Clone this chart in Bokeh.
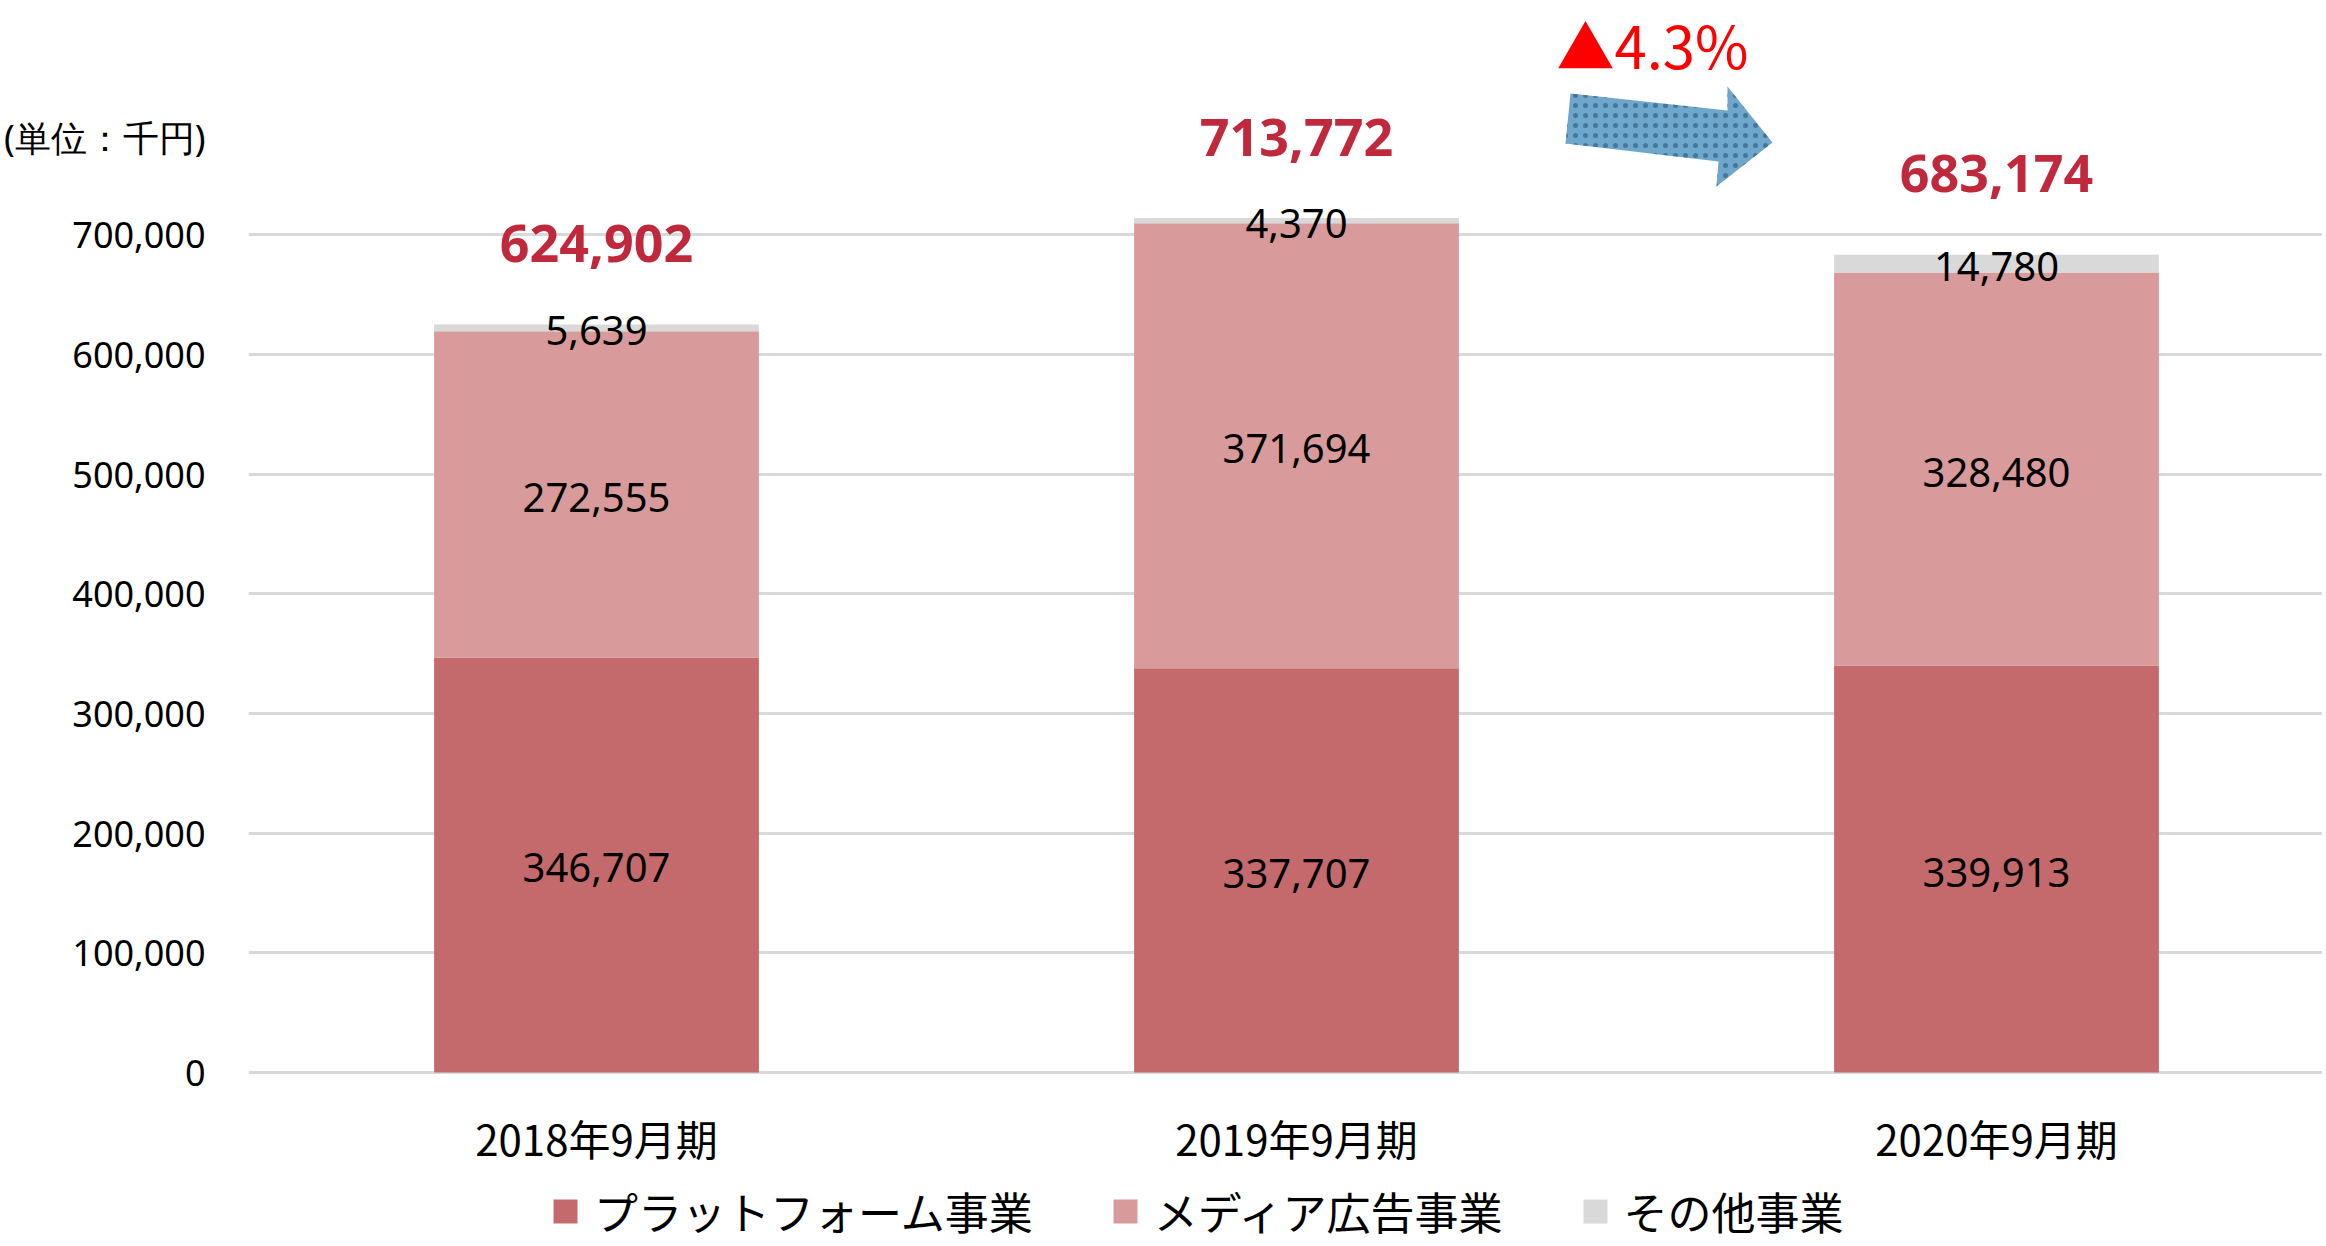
from bokeh.plotting import figure
from bokeh.models import (ColumnDataSource, Range1d, FixedTicker, Legend, LegendItem,
                          Label, NumeralTickFormatter)
from bokeh.core.properties import value
from bokeh.embed import file_html
from bokeh.resources import INLINE

# ---- data ----
periods = ["2018年9月期", "2019年9月期", "2020年9月期"]
platform = [346707, 337707, 339913]
media = [272555, 371694, 328480]
other = [5639, 4370, 14780]
totals = [624902, 713772, 683174]
series_names = ["プラットフォーム事業", "メディア広告事業", "その他事業"]
y_ticks = [0, 100000, 200000, 300000, 400000, 500000, 600000, 700000]
change_label = "▲4.3%"
unit_label = "(単位：千円)"

# ---- styling / geometry ----
colors = ["#C46A6C", "#D89A9B", "#D9D9D9"]
NUM_FONT = "Noto Sans"
JP_FONT = "Noto Sans CJK JP"

# page-pixel -> data helpers (used only for decorations)
PX0, PXU = 596.0, 700.0          # page x of first category centre, px per category
PY0, PYU = 1072.0, 119.7 / 1e5   # page y of zero line, px per unit value
def px2x(px):
    return (px - PX0) / PXU
def py2y(py):
    return (PY0 - py) / PYU

W, H = 2322, 1244
FRAME_L = 248
p = figure(frame_width=W - FRAME_L, frame_height=H,
           output_backend="svg", toolbar_location=None,
           x_range=Range1d(px2x(FRAME_L), px2x(W)),
           y_range=Range1d(py2y(H), py2y(0)),
           min_border_left=FRAME_L, min_border_right=0, min_border_top=0,
           min_border_bottom=0)
p.outline_line_color = None
p.background_fill_color = "white"
p.border_fill_color = "white"

xs = list(range(len(periods)))
plat_mid = [v / 2 for v in platform]
media_mid = [a + b / 2 for a, b in zip(platform, media)]
other_mid = [a + b + c / 2 for a, b, c in zip(platform, media, other)]
src = ColumnDataSource(dict(
    x=xs, platform=platform, media=media, other=other, totals=totals,
    plat_mid=plat_mid, media_mid=media_mid, other_mid=other_mid,
    plat_lbl=[f"{v:,}" for v in platform],
    media_lbl=[f"{v:,}" for v in media],
    other_lbl=[f"{v:,}" for v in other],
    total_lbl=[f"{v:,}" for v in totals],
))

renderers = p.vbar_stack(["platform", "media", "other"], x="x", width=0.464,
                         color=colors, line_color=None, source=src)

for ycol, tcol in [("plat_mid", "plat_lbl"), ("media_mid", "media_lbl"), ("other_mid", "other_lbl")]:
    p.text(x="x", y=ycol, text=tcol, source=src, text_align="center",
           text_baseline="middle", text_font=value(NUM_FONT), text_font_size="40px",
           text_color="#000000", y_offset=3)

p.text(x="x", y="totals", text="total_lbl", source=src, text_align="center",
       text_baseline="middle", text_font=value(NUM_FONT), text_font_size="52px",
       text_font_style="bold", text_color="#C0283C", y_offset=-81)

# axes (the unit caption rides on an extra y tick without a grid line)
unit_y = int(round(py2y(137)))
p.yaxis.ticker = FixedTicker(ticks=y_ticks + [unit_y])
p.yaxis.formatter = NumeralTickFormatter(format="0,0")
p.yaxis.major_label_overrides = {unit_y: unit_label}
p.yaxis.axis_line_color = None
p.yaxis.major_tick_line_color = None
p.yaxis.minor_tick_line_color = None
p.yaxis.major_label_standoff = 37
p.yaxis.major_label_text_font = NUM_FONT
p.yaxis.major_label_text_font_size = "36px"
p.yaxis.major_label_text_color = "#000000"

# x axis sits at the canvas bottom; its labels are pulled up under the bars
p.xaxis.ticker = FixedTicker(ticks=xs)
p.xaxis.major_label_overrides = {i: s for i, s in enumerate(periods)}
p.xaxis.axis_line_color = None
p.xaxis.major_tick_line_color = None
p.xaxis.minor_tick_line_color = None
p.xaxis.major_label_standoff = 1100 - H
p.xaxis.major_label_text_font = JP_FONT
p.xaxis.major_label_text_font_size = "42px"
p.xaxis.major_label_text_color = "#000000"

p.xgrid.grid_line_color = None
p.ygrid.ticker = FixedTicker(ticks=y_ticks)
p.ygrid.grid_line_color = "#D9D9D9"
p.ygrid.grid_line_width = 3

# decorative arrow
arrow_px = [(1570, 93), (1727, 110), (1727, 86), (1772, 142), (1716, 186), (1718, 161), (1565, 143)]
p.patch(x=[px2x(a) for a, b in arrow_px], y=[py2y(b) for a, b in arrow_px],
        fill_color="#6FA6CC", line_color=None, hatch_pattern="dot",
        hatch_color="#3D6E93", hatch_scale=10, hatch_weight=5, hatch_alpha=0.85)

p.add_layout(Label(x=px2x(1556), y=py2y(43), text=change_label, text_align="left",
                   text_baseline="middle", text_font=JP_FONT, text_font_size="58px",
                   text_color="#FF0000"))

legend = Legend(items=[LegendItem(label=n, renderers=[r]) for n, r in zip(series_names, renderers)],
                location=(550 - FRAME_L, 1), orientation="horizontal",
                glyph_width=30, glyph_height=30, label_standoff=14, spacing=77,
                padding=0, margin=0, border_line_color=None, background_fill_alpha=0,
                label_text_font=JP_FONT, label_text_font_size="44px",
                label_text_color="#000000")
p.add_layout(legend, "center")

open("out.html", "w").write(file_html(p, INLINE))
